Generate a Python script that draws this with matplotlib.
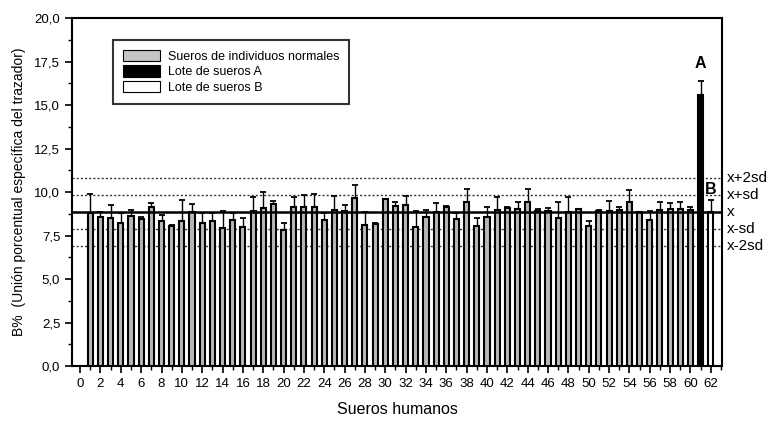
import matplotlib
matplotlib.use("Agg")
import matplotlib.pyplot as plt
from matplotlib.ticker import FuncFormatter, MultipleLocator
from matplotlib.patches import Patch
import numpy as np

plt.rcParams['font.family'] = ['Liberation Sans', 'DejaVu Sans']

# ---- data ----
normal_pos = list(range(1, 61))
normal_vals = [8.80, 8.58, 8.50, 8.20, 8.64, 8.45, 9.13, 8.35, 8.06, 8.35,
               8.85, 8.24, 8.33, 7.95, 8.37, 8.00, 8.93, 9.06, 9.29, 7.82,
               9.16, 9.12, 9.12, 8.39, 8.97, 8.90, 9.63, 8.10, 8.16, 9.58,
               9.20, 9.25, 7.97, 8.58, 8.85, 9.16, 8.43, 9.45, 8.05, 8.58,
               8.97, 9.10, 9.00, 9.45, 8.90, 8.90, 8.49, 8.85, 9.00, 8.05,
               8.93, 8.93, 8.97, 9.40, 8.85, 8.39, 8.97, 9.00, 9.00, 8.97]
normal_err = [1.10, 0.27, 0.75, 0.60, 0.33, 0.13, 0.22, 0.33, 0.05, 1.19,
              0.46, 0.56, 0.47, 0.98, 0.43, 0.53, 0.76, 0.96, 0.21, 0.38,
              0.53, 0.71, 0.77, 0.38, 0.80, 0.35, 0.77, 0.75, 0.04, 0.02,
              0.25, 0.54, 0.93, 0.39, 0.50, 0.04, 0.34, 0.70, 0.45, 0.54,
              0.76, 0.02, 0.45, 0.75, 0.15, 0.20, 0.91, 0.88, 0.02, 0.30,
              0.02, 0.57, 0.19, 0.70, 0.02, 0.51, 0.48, 0.35, 0.40, 0.19]
lot_a_pos, lot_a_val, lot_a_err = 61, 15.57, 0.83
lot_b_pos, lot_b_val, lot_b_err = 62, 8.85, 0.69
mean_val = 8.85
sd_val = 0.98
ref_labels = ['x-2sd', 'x-sd', 'x', 'x+sd', 'x+2sd']
ref_mult = [-2, -1, 0, 1, 2]
legend_labels = ['Sueros de individuos normales', 'Lote de sueros A', 'Lote de sueros B']

# ---- figure ----
fig = plt.figure(figsize=(7.71, 4.21), dpi=100)
ax = fig.add_axes([0.0934, 0.1306, 0.843, 0.8264])

bw = 0.5
ax.bar(normal_pos, normal_vals, width=bw, color='#b8b8b8', edgecolor='black',
       linewidth=1.5, zorder=3)
ax.errorbar(normal_pos, normal_vals, yerr=[np.zeros(len(normal_err)), normal_err],
            fmt='none', ecolor='black', elinewidth=1.0, capsize=2.5, capthick=1.3, zorder=2)
ax.bar([lot_a_pos], [lot_a_val], width=bw, color='black', edgecolor='black',
       linewidth=1.5, zorder=3)
ax.errorbar([lot_a_pos], [lot_a_val], yerr=[[0], [lot_a_err]], fmt='none',
            ecolor='black', elinewidth=1.0, capsize=2.5, capthick=1.3, zorder=2)
ax.bar([lot_b_pos], [lot_b_val], width=bw, color='white', edgecolor='black',
       linewidth=1.5, zorder=3)
ax.errorbar([lot_b_pos], [lot_b_val], yerr=[[0], [lot_b_err]], fmt='none',
            ecolor='black', elinewidth=1.0, capsize=2.5, capthick=1.3, zorder=2)

# reference lines
for lab, m in zip(ref_labels, ref_mult):
    yv = mean_val + m * sd_val
    if m == 0:
        ax.axhline(yv, color='black', lw=1.8, zorder=4)
    else:
        ax.axhline(yv, color='#333333', lw=1.0, ls=(0, (1.5, 1.5)), zorder=1)
    ax.text(1.008, yv, lab, transform=ax.get_yaxis_transform(), ha='left',
            va='center', fontsize=11, clip_on=False)

ax.text(lot_a_pos, 17.4, 'A', ha='center', va='center', fontsize=11.5, fontweight='bold')
ax.text(lot_b_pos, 10.15, 'B', ha='center', va='center', fontsize=11.5, fontweight='bold')

ax.set_xlim(-0.8, 63.1)
ax.set_ylim(0, 20)
ax.xaxis.set_major_locator(MultipleLocator(2))
ax.xaxis.set_minor_locator(MultipleLocator(1))
ax.yaxis.set_major_locator(MultipleLocator(2.5))
ax.yaxis.set_minor_locator(MultipleLocator(1.25))
ax.yaxis.set_major_formatter(FuncFormatter(lambda v, p: f"{v:.1f}".replace('.', ',')))
ax.xaxis.set_major_formatter(FuncFormatter(lambda v, p: f"{int(round(v))}"))
ax.tick_params(axis='both', which='major', direction='out', length=5, width=1.2, labelsize=9.5)
ax.tick_params(axis='both', which='minor', direction='out', length=3, width=1.0)
for s in ax.spines.values():
    s.set_linewidth(1.5)

ax.set_xlabel('Sueros humanos', fontsize=11.5, labelpad=9)
ax.set_ylabel('B%  (Unión porcentual específica del trazador)', fontsize=10, labelpad=6)

handles = [Patch(facecolor='#c4c4c4', edgecolor='black', lw=0.8),
           Patch(facecolor='black', edgecolor='black', lw=0.8),
           Patch(facecolor='white', edgecolor='black', lw=0.8)]
leg = ax.legend(handles, legend_labels, loc='upper left',
                bbox_to_anchor=(0.063, 0.937), fontsize=9, frameon=True,
                fancybox=False, edgecolor='black', borderpad=0.8,
                handlelength=3.0, handleheight=1.0, labelspacing=0.2,
                borderaxespad=0, handletextpad=0.6)
leg.get_frame().set_linewidth(1.5)
leg.set_zorder(10)

fig.savefig('out.png', dpi=100)
